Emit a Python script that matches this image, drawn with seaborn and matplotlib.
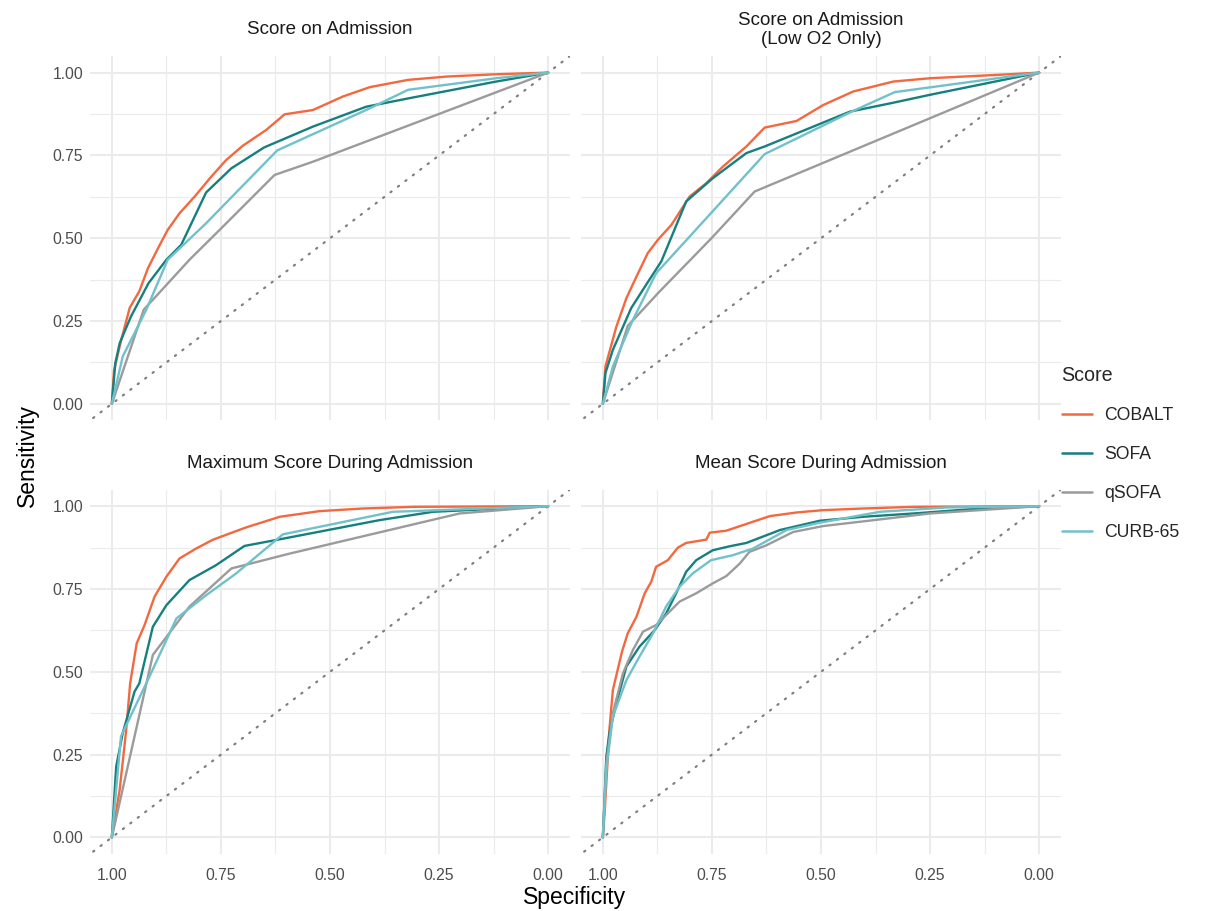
import numpy as np
import pandas as pd
import matplotlib
matplotlib.use("Agg")
import matplotlib.pyplot as plt
from matplotlib.lines import Line2D
import seaborn as sns

# -----------------------------
# Data
# -----------------------------
PANELS = ["Score on Admission", "Score on Admission\n(Low O2 Only)",
          "Maximum Score During Admission", "Mean Score During Admission"]
SCORES = ["COBALT", "SOFA", "qSOFA", "CURB-65"]
COLORS = ["#F4683F", "#16807F", "#9B9B9B", "#70C1CA"]

# Score on Admission
adm_cobalt_x = [1.0, 0.995, 0.979, 0.959, 0.937, 0.917, 0.894, 0.872, 0.845, 0.810, 0.772, 0.738, 0.700, 0.646, 0.604, 0.539, 0.470, 0.409, 0.321, 0.233, 0.119, 0.0]
adm_cobalt_y = [0.0, 0.10, 0.19, 0.29, 0.34, 0.41, 0.47, 0.525, 0.575, 0.626, 0.686, 0.736, 0.779, 0.827, 0.874, 0.887, 0.928, 0.956, 0.978, 0.988, 0.995, 1.0]
adm_sofa_x = [1.0, 0.992, 0.982, 0.956, 0.916, 0.875, 0.841, 0.784, 0.726, 0.651, 0.539, 0.417, 0.317, 0.119, 0.0]
adm_sofa_y = [0.0, 0.123, 0.183, 0.264, 0.364, 0.435, 0.48, 0.638, 0.711, 0.774, 0.837, 0.897, 0.923, 0.973, 1.0]
adm_qsofa_x = [1.0, 0.927, 0.822, 0.753, 0.627, 0.539, 0.0]
adm_qsofa_y = [0.0, 0.284, 0.435, 0.525, 0.691, 0.731, 1.0]
adm_curb_x = [1.0, 0.975, 0.921, 0.872, 0.784, 0.621, 0.409, 0.321, 0.119, 0.0]
adm_curb_y = [0.0, 0.143, 0.284, 0.435, 0.545, 0.765, 0.892, 0.948, 0.983, 1.0]

# Score on Admission (Low O2 only)
low_cobalt_x = [1.0, 0.994, 0.969, 0.946, 0.923, 0.897, 0.874, 0.843, 0.801, 0.763, 0.725, 0.671, 0.629, 0.556, 0.495, 0.426, 0.334, 0.250, 0.097, 0.0]
low_cobalt_y = [0.0, 0.113, 0.233, 0.319, 0.384, 0.455, 0.495, 0.540, 0.626, 0.666, 0.716, 0.777, 0.834, 0.854, 0.902, 0.943, 0.973, 0.983, 0.993, 1.0]
low_sofa_x = [1.0, 0.994, 0.977, 0.935, 0.901, 0.866, 0.809, 0.748, 0.671, 0.629, 0.434, 0.331, 0.250, 0.0]
low_sofa_y = [0.0, 0.093, 0.163, 0.289, 0.359, 0.430, 0.611, 0.681, 0.757, 0.777, 0.882, 0.910, 0.933, 1.0]
low_qsofa_x = [1.0, 0.943, 0.870, 0.751, 0.652, 0.0]
low_qsofa_y = [0.0, 0.235, 0.339, 0.500, 0.641, 1.0]
low_curb_x = [1.0, 0.977, 0.931, 0.878, 0.801, 0.629, 0.430, 0.331, 0.0]
low_curb_y = [0.0, 0.113, 0.254, 0.394, 0.505, 0.754, 0.882, 0.941, 1.0]

# Maximum Score During Admission
max_cobalt_x = [1.0, 0.982, 0.967, 0.958, 0.943, 0.925, 0.902, 0.875, 0.845, 0.807, 0.768, 0.692, 0.615, 0.524, 0.424, 0.310, 0.0]
max_cobalt_y = [0.0, 0.144, 0.325, 0.465, 0.586, 0.641, 0.727, 0.787, 0.842, 0.872, 0.899, 0.936, 0.968, 0.985, 0.993, 0.998, 1.0]
max_sofa_x = [1.0, 0.990, 0.975, 0.948, 0.937, 0.906, 0.875, 0.822, 0.761, 0.696, 0.615, 0.386, 0.264, 0.0]
max_sofa_y = [0.0, 0.214, 0.315, 0.440, 0.465, 0.636, 0.701, 0.777, 0.822, 0.880, 0.900, 0.958, 0.983, 1.0]
max_qsofa_x = [1.0, 0.906, 0.822, 0.726, 0.592, 0.203, 0.0]
max_qsofa_y = [0.0, 0.551, 0.697, 0.812, 0.857, 0.978, 1.0]
max_curb_x = [1.0, 0.979, 0.914, 0.852, 0.784, 0.715, 0.608, 0.356, 0.0]
max_curb_y = [0.0, 0.305, 0.485, 0.661, 0.731, 0.797, 0.915, 0.983, 1.0]

# Mean Score During Admission
mean_cobalt_x = [1.0, 0.996, 0.985, 0.977, 0.966, 0.956, 0.943, 0.923, 0.904, 0.889, 0.878, 0.851, 0.828, 0.809, 0.763, 0.755, 0.717, 0.656, 0.617, 0.556, 0.495, 0.403, 0.288, 0.0]
mean_cobalt_y = [0.0, 0.073, 0.325, 0.445, 0.506, 0.561, 0.616, 0.666, 0.737, 0.772, 0.817, 0.837, 0.875, 0.889, 0.899, 0.920, 0.926, 0.953, 0.970, 0.981, 0.988, 0.993, 0.998, 1.0]
mean_sofa_x = [1.0, 0.992, 0.985, 0.969, 0.946, 0.916, 0.881, 0.855, 0.832, 0.809, 0.786, 0.748, 0.709, 0.671, 0.594, 0.503, 0.403, 0.288, 0.135, 0.0]
mean_sofa_y = [0.0, 0.244, 0.315, 0.405, 0.516, 0.576, 0.626, 0.676, 0.737, 0.802, 0.837, 0.867, 0.879, 0.889, 0.928, 0.956, 0.968, 0.978, 0.993, 1.0]
mean_qsofa_x = [1.0, 0.992, 0.977, 0.954, 0.931, 0.908, 0.878, 0.824, 0.786, 0.748, 0.717, 0.686, 0.664, 0.625, 0.564, 0.495, 0.365, 0.250, 0.0]
mean_qsofa_y = [0.0, 0.224, 0.375, 0.495, 0.566, 0.621, 0.641, 0.712, 0.737, 0.767, 0.789, 0.827, 0.862, 0.882, 0.922, 0.940, 0.960, 0.978, 1.0]
mean_curb_x = [1.0, 0.992, 0.977, 0.946, 0.916, 0.885, 0.855, 0.824, 0.794, 0.752, 0.702, 0.656, 0.579, 0.503, 0.365, 0.212, 0.0]
mean_curb_y = [0.0, 0.204, 0.365, 0.475, 0.546, 0.616, 0.697, 0.757, 0.797, 0.837, 0.852, 0.872, 0.928, 0.950, 0.983, 0.996, 1.0]

TICKS = [0.0, 0.25, 0.5, 0.75, 1.0]
TICK_LABELS = ["0.00", "0.25", "0.50", "0.75", "1.00"]

curves = {
    PANELS[0]: [(adm_cobalt_x, adm_cobalt_y), (adm_sofa_x, adm_sofa_y), (adm_qsofa_x, adm_qsofa_y), (adm_curb_x, adm_curb_y)],
    PANELS[1]: [(low_cobalt_x, low_cobalt_y), (low_sofa_x, low_sofa_y), (low_qsofa_x, low_qsofa_y), (low_curb_x, low_curb_y)],
    PANELS[2]: [(max_cobalt_x, max_cobalt_y), (max_sofa_x, max_sofa_y), (max_qsofa_x, max_qsofa_y), (max_curb_x, max_curb_y)],
    PANELS[3]: [(mean_cobalt_x, mean_cobalt_y), (mean_sofa_x, mean_sofa_y), (mean_qsofa_x, mean_qsofa_y), (mean_curb_x, mean_curb_y)],
}

rows = []
for panel, lst in curves.items():
    for score, (xs, ys) in zip(SCORES, lst):
        for i, (x, y) in enumerate(zip(xs, ys)):
            rows.append({"panel": panel, "Score": score, "order": i,
                         "Specificity": x, "Sensitivity": y})
df = pd.DataFrame(rows)
palette = dict(zip(SCORES, COLORS))

# -----------------------------
# Plot
# -----------------------------
sns.set_theme(style="white")
plt.rcParams["font.family"] = ["Liberation Sans", "DejaVu Sans"]

fig, axes = plt.subplots(2, 2, figsize=(12.28, 9.11), dpi=100, sharex=True, sharey=True)
fig.subplots_adjust(left=0.0733, right=0.864, top=0.9385, bottom=0.0626,
                    wspace=0.023, hspace=0.19)

for ax, panel in zip(axes.flat, PANELS):
    sub = df[df["panel"] == panel]
    ax.axline((1, 0), (0, 1), color="#7F7F7F", lw=1.6, ls=(0, (0.6, 3.6)),
              dash_capstyle="round", zorder=2)
    sns.lineplot(data=sub, x="Specificity", y="Sensitivity", hue="Score",
                 hue_order=SCORES, palette=palette, units="Score",
                 estimator=None, sort=False, lw=1.7, legend=False, ax=ax, zorder=3)
    ax.set_xlim(1.05, -0.05)
    ax.set_ylim(-0.05, 1.05)
    ax.set_xticks(TICKS)
    ax.set_xticklabels(TICK_LABELS)
    ax.set_yticks(TICKS)
    ax.set_yticklabels(TICK_LABELS)
    ax.set_xticks([0.125, 0.375, 0.625, 0.875], minor=True)
    ax.set_yticks([0.125, 0.375, 0.625, 0.875], minor=True)
    ax.grid(True, which="major", color="#EBEBEB", lw=1.5)
    ax.grid(True, which="minor", color="#EBEBEB", lw=0.8)
    ax.set_axisbelow(True)
    for s in ax.spines.values():
        s.set_visible(False)
    ax.tick_params(which="both", length=0, labelsize=11.3, labelcolor="#4D4D4D")
    ax.tick_params(axis="x", pad=10)
    ax.tick_params(axis="y", pad=5)
    # facet strip title, centred at a fixed height above the panel
    ax.annotate(panel, xy=(0.5, 1.0), xycoords="axes fraction",
                xytext=(0, 18.8), textcoords="offset points",
                ha="center", va="center", fontsize=13.5, color="#1A1A1A",
                linespacing=1.15)
    ax.set_xlabel("")
    ax.set_ylabel("")

fig.text(0.468, 0.015, "Specificity", ha="center", va="center", fontsize=16.5, color="black")
fig.text(0.022, 0.5, "Sensitivity", ha="center", va="center", rotation=90, fontsize=16.5, color="black")

handles = [Line2D([], [], color=c, lw=1.8) for c in COLORS]
leg = fig.legend(handles, SCORES, title="Score", loc="center left",
                 bbox_to_anchor=(0.8515, 0.502), frameon=False, fontsize=12.7,
                 title_fontsize=14.2, labelspacing=1.25, handlelength=1.7,
                 handletextpad=0.7)
leg._legend_box.align = "left"

plt.savefig("out.png", dpi=100)
